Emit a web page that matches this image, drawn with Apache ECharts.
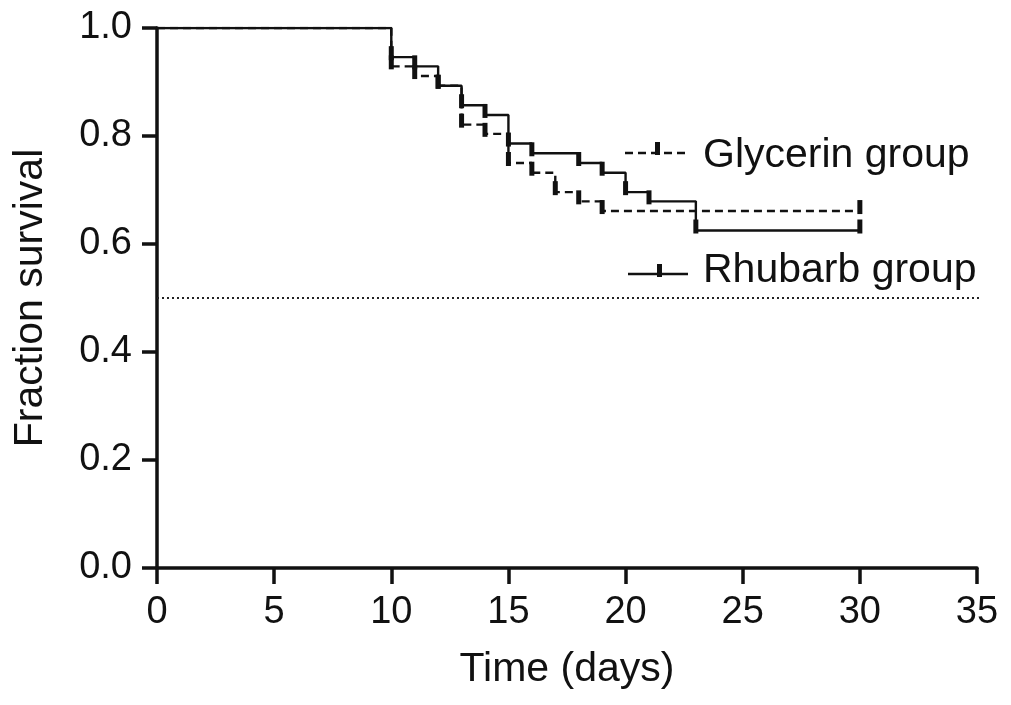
<!DOCTYPE html>
<html><head><meta charset="utf-8">
<script src="https://cdn.jsdelivr.net/npm/echarts@6/dist/echarts.min.js"></script>
<style>html,body{margin:0;padding:0;background:#fff}#c{width:1011px;height:705px}</style>
</head><body><div id="c"></div>
<script>
var xTicks = [0, 5, 10, 15, 20, 25, 30, 35];
var yTicks = [0.0, 0.2, 0.4, 0.6, 0.8, 1.0];
var glycerinDays = [0, 10, 11, 12, 13, 14, 15, 16, 17, 18, 19, 30];
var glycerinSurv = [1.0, 0.929, 0.911, 0.893, 0.821, 0.804, 0.750, 0.732, 0.696, 0.679, 0.661, 0.661];
var rhubarbDays = [0, 10, 11, 12, 13, 14, 15, 16, 18, 19, 20, 21, 23, 30];
var rhubarbSurv = [1.0, 0.946, 0.929, 0.893, 0.857, 0.839, 0.786, 0.768, 0.750, 0.732, 0.696, 0.679, 0.625, 0.625];
var medianLine = 0.5;

function pairs(xs, ys) { return xs.map(function (x, i) { return [x, ys[i]]; }); }
var gly = pairs(glycerinDays, glycerinSurv);
var rhu = pairs(rhubarbDays, rhubarbSurv);

var font = 'Liberation Sans, Arial, sans-serif';
var chart = echarts.init(document.getElementById('c'));
var tickMark = { type: 'scatter', symbol: 'rect', symbolSize: [5, 14], symbolOffset: [0, -4],
  itemStyle: { color: '#111', opacity: 1 }, silent: true, z: 5 };

chart.setOption({
  animation: false,
  grid: { left: 157, right: 34, top: 28, bottom: 137, containLabel: false, outerBoundsMode: 'none' },
  xAxis: {
    type: 'value', min: 0, max: 35, interval: 5,
    name: 'Time (days)', nameLocation: 'middle', nameGap: 81,
    nameTextStyle: { fontSize: 41, color: '#111', fontFamily: font },
    axisLine: { lineStyle: { color: '#111', width: 3.5 } },
    axisTick: { show: true, length: 16, lineStyle: { color: '#111', width: 3.5 } },
    axisLabel: { fontSize: 38, color: '#111', fontFamily: font, margin: 26 },
    splitLine: { show: false }
  },
  yAxis: {
    type: 'value', min: 0, max: 1, interval: 0.2,
    name: 'Fraction survival', nameLocation: 'middle', nameGap: 106,
    nameTextStyle: { fontSize: 41, color: '#111', fontFamily: font },
    axisLine: { show: true, lineStyle: { color: '#111', width: 3.5 } },
    axisTick: { show: true, length: 15, lineStyle: { color: '#111', width: 3.5 } },
    axisLabel: { fontSize: 38, color: '#111', fontFamily: font, margin: 25,
      formatter: function (v) { return v.toFixed(1); } },
    splitLine: { show: false }
  },
  series: [
    { name: 'Median', type: 'line', data: [[0, medianLine], [35.3, medianLine]], symbol: 'none', clip: false,
      lineStyle: { color: '#222', width: 1.8, type: [2, 3] }, silent: true, z: 1 },
    { name: 'Glycerin group', type: 'line', step: 'end', data: gly, symbol: 'none',
      lineStyle: { color: '#111', width: 2.4, type: [8, 5] }, z: 3 },
    { name: 'Rhubarb group', type: 'line', step: 'end', data: rhu, symbol: 'none',
      lineStyle: { color: '#111', width: 2.4 }, z: 4 },
    Object.assign({}, tickMark, { data: gly.slice(1) }),
    Object.assign({}, tickMark, { data: rhu.slice(1) })
  ],
  graphic: [
    { type: 'line', shape: { x1: 625, y1: 153, x2: 685, y2: 153 },
      style: { stroke: '#111', lineWidth: 2.4, lineDash: [8, 5] } },
    { type: 'rect', shape: { x: 655, y: 142, width: 5, height: 13 }, style: { fill: '#111' } },
    { type: 'text', left: 703, top: 135, style: { text: 'Glycerin group', fontSize: 41, fill: '#111', fontFamily: font } },
    { type: 'line', shape: { x1: 628, y1: 274, x2: 688, y2: 274 },
      style: { stroke: '#111', lineWidth: 2.4 } },
    { type: 'rect', shape: { x: 657, y: 264, width: 5, height: 13 }, style: { fill: '#111' } },
    { type: 'text', left: 703, top: 250, style: { text: 'Rhubarb group', fontSize: 41, fill: '#111', fontFamily: font } }
  ]
});
</script></body></html>
